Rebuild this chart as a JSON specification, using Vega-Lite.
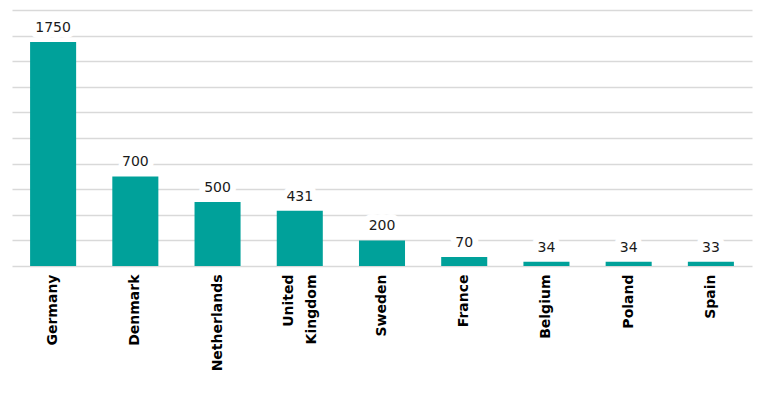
{
  "$schema": "https://vega.github.io/schema/vega-lite/v6.json",
  "autosize": "none",
  "width": 740,
  "height": 256,
  "padding": {"left": 12, "top": 10, "right": 16, "bottom": 132},
  "background": "white",
  "config": {"view": {"stroke": null}, "font": "DejaVu Sans"},
  "data": {"values": [
    {"country": "Germany", "value": 1750},
    {"country": "Denmark", "value": 700},
    {"country": "Netherlands", "value": 500},
    {"country": "United Kingdom", "value": 431},
    {"country": "Sweden", "value": 200},
    {"country": "France", "value": 70},
    {"country": "Belgium", "value": 34},
    {"country": "Poland", "value": 34},
    {"country": "Spain", "value": 33}
  ]},
  "encoding": {
    "x": {
      "field": "country", "type": "nominal", "sort": null,
      "scale": {"paddingInner": 0.44, "paddingOuter": 0.22},
      "axis": {
        "title": null, "labelAngle": -90, "labelFontSize": 14, "labelFontWeight": "bold",
        "labelColor": "#000000", "ticks": false, "domain": false, "labelPadding": 8,
        "labelLineHeight": 23, "grid": false,
        "labelOffset": {"condition": {"test": "datum.label == 'United Kingdom'", "value": -11}, "value": 0},
        "labelExpr": "datum.label == 'United Kingdom' ? ['United\u00a0\u00a0', 'Kingdom'] : datum.label"
      }
    },
    "y": {
      "field": "value", "type": "quantitative",
      "scale": {"domain": [0, 2000], "nice": false},
      "axis": {
        "title": null, "labels": false, "ticks": false, "domain": false, "grid": true,
        "gridColor": "#d9d9d9", "gridWidth": 1.5,
        "values": [0, 200, 400, 600, 800, 1000, 1200, 1400, 1600, 1800, 2000]
      }
    }
  },
  "layer": [
    {"mark": {"type": "bar", "color": "#00A19A"}},
    {
      "mark": {"type": "text", "dy": -10, "baseline": "alphabetic", "fontSize": 14,
               "fill": "white", "stroke": "white", "strokeWidth": 12, "strokeJoin": "round"},
      "encoding": {"text": {"field": "value", "type": "quantitative"}}
    },
    {
      "mark": {"type": "text", "dy": -10, "baseline": "alphabetic", "fontSize": 14, "fill": "#1a1a1a"},
      "encoding": {"text": {"field": "value", "type": "quantitative"}}
    }
  ]
}
